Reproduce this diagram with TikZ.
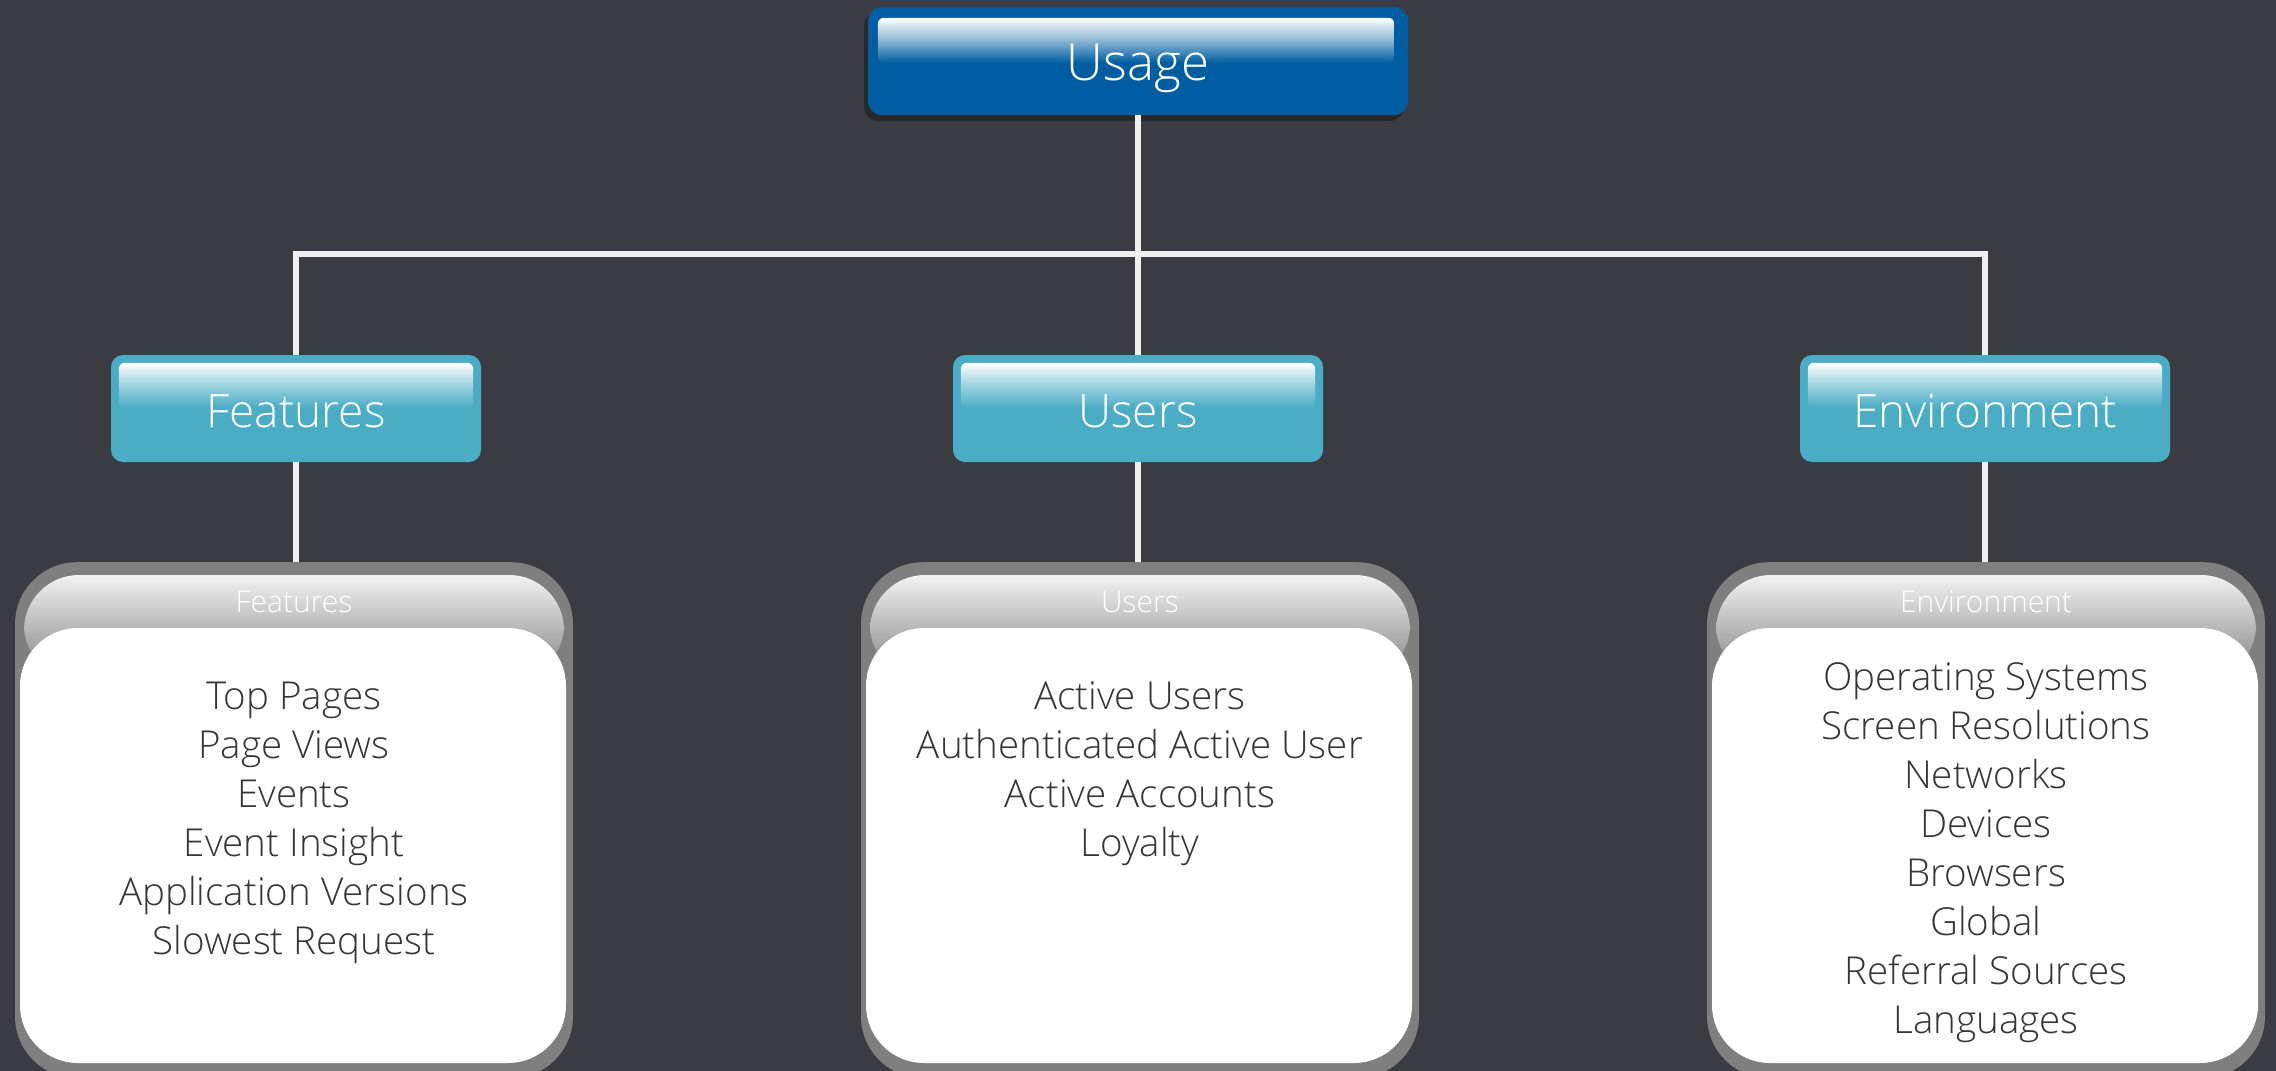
\documentclass[tikz,border=0pt]{standalone}
\usepackage{fontspec}
\setmainfont{Open Sans}[UprightFont={* Light}]
\usetikzlibrary{calc}
\definecolor{bg}{HTML}{3B3C41}
\definecolor{teal}{HTML}{4BACC6}
\definecolor{ublue}{HTML}{005DA1}
\definecolor{cgray}{HTML}{7F7F7F}
\definecolor{ltxt}{HTML}{363636}
\definecolor{wline}{HTML}{F0F0F0}
\tikzset{
  conn/.style={draw=wline, line width=6pt},
  usagebox/.style={fill=ublue, rounded corners=14pt, minimum width=540pt, minimum height=108pt, inner sep=0pt},
  midbox/.style={fill=teal, rounded corners=12pt, minimum width=370pt, minimum height=107pt, inner sep=0pt},
  contouter/.style={fill=cgray, rounded corners=62pt, minimum width=558pt, minimum height=516pt, inner sep=0pt, anchor=north},
  boxtext/.style={text=white, font=\fontsize{46}{56}\selectfont, anchor=base, inner sep=0pt},
  conttitle/.style={text=white, font=\fontsize{30}{36}\selectfont, anchor=base, inner sep=0pt},
  item/.style={text=ltxt, font=\fontsize{38.5}{49}\selectfont, anchor=base, inner sep=0pt},
}
\newcommand{\midhl}[1]{%
  \shade[top color=white, bottom color=teal, middle color=teal!55!white, rounded corners=6pt]
    ($(#1.north west)+(8,8)$) rectangle ($(#1.north east)+(-8,53)$);}
\newcommand{\mycont}[3]{% #1 x, #2 name, #3 title
  \node[contouter] (#2) at (#1,562) {};
  \shade[top color=white!95!black, bottom color=cgray, rounded corners=55pt]
    (#1-270,575) rectangle (#1+270,680);
  \fill[white, rounded corners=58pt] (#1-274,628) rectangle (#1+272,1063);
  \node[conttitle] (#2t) at (#1,612) {#3};
}
\begin{document}
\begin{tikzpicture}[x=1pt,y=-1pt]
\useasboundingbox (0,0) rectangle (2276,1071);
\fill[bg] (0,0) rectangle (2276,1071);
\clip (0,0) rectangle (2276,1071);
% nodes
\fill[black, opacity=0.3, rounded corners=14pt] (864,12) rectangle (1404,121);
\node[usagebox] (usage) at (1138,61) {};
\shade[top color=white, bottom color=ublue, middle color=ublue!45!white, rounded corners=6pt]
  ($(usage.north west)+(10,11)$) rectangle ($(usage.north east)+(-14,56)$);
\node[boxtext, font=\fontsize{51}{61}\selectfont] (usaget) at (1138,80) {Usage};

\node[midbox] (featbox) at (296,408.5) {};
\node[midbox] (usersbox) at (1138,408.5) {};
\node[midbox] (envbox) at (1985,408.5) {};
\midhl{featbox}\midhl{usersbox}\midhl{envbox}
\node[boxtext] (featt) at (296,427) {Features};
\node[boxtext] (userst) at (1138,427) {Users};
\node[boxtext] (envt) at (1985,427) {Environment};

\mycont{294}{featcont}{Features}
\mycont{1140}{userscont}{Users}
\mycont{1986}{envcont}{Environment}

% connectors
\coordinate (bus) at (1138,254);
\draw[conn] (usage.south) -- (usersbox.north);
\draw[conn] (featbox.north) |- (bus) -| (envbox.north);
\draw[conn] (featbox.south) -- (featbox.south |- featcont.north);
\draw[conn] (usersbox.south) -- (usersbox.south |- userscont.north);
\draw[conn] (envbox.south) -- (envbox.south |- envcont.north);

% lists
\foreach \t [count=\i] in {Top Pages,Page Views,Events,Event Insight,Application Versions,Slowest Request}
  \node[item] (f\i) at (294,{709+49*(\i-1)}) {\t};
\foreach \t [count=\i] in {Active Users,Authenticated Active User,Active Accounts,Loyalty}
  \node[item] (u\i) at (1140,{709+49*(\i-1)}) {\t};
\foreach \t [count=\i] in {Operating Systems,Screen Resolutions,Networks,Devices,Browsers,Global,Referral Sources,Languages}
  \node[item] (e\i) at (1986,{690+49.1*(\i-1)}) {\t};
\end{tikzpicture}
\end{document}
